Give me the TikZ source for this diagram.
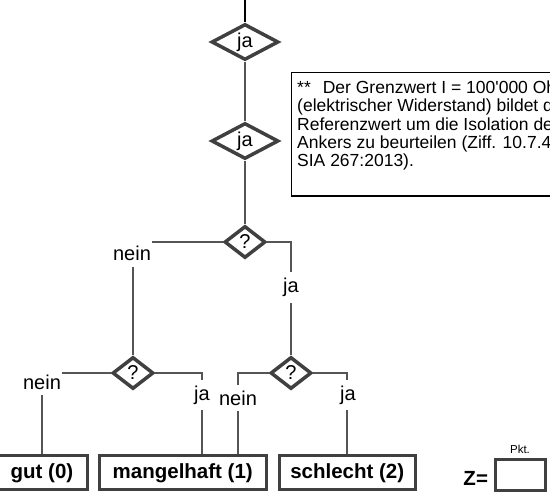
\documentclass[tikz,border=0pt]{standalone}
\usepackage{fontspec}
\setmainfont{Liberation Sans}
\usepackage{tikz}
\usetikzlibrary{shapes.geometric}
\usetikzlibrary{positioning}
\usetikzlibrary{backgrounds}
\definecolor{liniengrau}{HTML}{555555}
\definecolor{rahmengrau}{HTML}{404040}
\tikzset{frage/.style = {diamond, draw=rahmengrau, line width=3.5pt, fill=white,
                         inner sep=0pt, minimum width=67pt, minimum height=36pt,
                         font=\fontsize{20}{20}\selectfont},
         fragezeichen/.style = {frage, minimum width=41pt, minimum height=32pt},
         ergebnis/.style = {rectangle, draw=rahmengrau, line width=3pt, fill=white,
                            inner sep=0pt, minimum height=34pt,
                            font=\fontsize{20.5}{20.5}\selectfont\bfseries},
         pfad/.style = {draw=liniengrau, line width=2pt},
         antwort/.style = {fill=white, inner xsep=1pt, inner ysep=6pt,
                           font=\fontsize{20}{20}\selectfont},
         notiz/.style = {rectangle, draw=black, line width=1.5pt, fill=white,
                         inner sep=0pt, outer sep=0pt},
         notiztext/.style = {inner sep=0pt, align=left,
                             font=\fontsize{17.5}{18.2}\selectfont}}

\begin{document}
\begin{tikzpicture}[x=1pt, y=1pt]
    \useasboundingbox (0,0) rectangle (550,493);
    \clip (0,0) rectangle (550,493);

    \coordinate (start) at (245,493);
    \node[frage] (ja1) at (245,451) {ja};
    \node[frage] (ja2) at (245,352) {ja};
    \node[fragezeichen] (f1) at (245,251) {?};
    \node[fragezeichen] (f2) at (133,120) {?};
    \node[fragezeichen] (f3) at (291,120) {?};

    \node[notiz, minimum width=340pt, minimum height=123.5pt, anchor=north west] (notiz) at (291.5,420.5) {};
    \node[notiztext, anchor=north west] (notiztext) at (297,412.2)
        {**\hspace{12pt}Der Grenzwert I = 100\textquotesingle000 Ohm\\
         (elektrischer Widerstand) bildet den\\
         Referenzwert um die Isolation des\\
         Ankers zu beurteilen (Ziff. 10.7.4\\
         SIA 267:2013).};

    \node[ergebnis, minimum width=91pt] (gut) at (42,20) {gut (0)};
    \node[ergebnis, minimum width=166.5pt] (mangel) at (182.75,20) {mangelhaft (1)};
    \node[ergebnis, minimum width=135.5pt] (schlecht) at (347.25,20) {schlecht (2)};

    \node[ergebnis, minimum width=50pt, minimum height=31pt] (punkte) at (520,17.5) {};
    \node[font=\fontsize{11.5}{11.5}\selectfont, above=1pt of punkte] (pkt) {Pkt.};
    \node[font=\fontsize{20.5}{20.5}\selectfont\bfseries, left=2pt of punkte, yshift=-2.5pt] (zet) {Z=};

    % Verbindungen hinter den Knoten
    \coordinate (e1) at (202,0);
    \coordinate (e2) at (238,0);
    \begin{scope}[on background layer]
        \draw[pfad, draw=black] (start) -- (ja1);
        \draw[pfad] (ja1) -- (ja2);
        \draw[pfad] (ja2) -- (f1);
        \draw[pfad] (f1.west) -| (f2.north);
        \draw[pfad] (f1.east) -| (f3.north);
        \draw[pfad] (f2.west) -| (gut.north);
        \draw[pfad] (f2.east) -| (e1 |- mangel.north);
        \draw[pfad] (f3.west) -| (e2 |- mangel.north);
        \draw[pfad] (f3.east) -| (schlecht.north);
    \end{scope}

    \node[antwort] (n1) at (132,239.5) {nein};
    \node[antwort] (j1) at (291,205.5) {ja};
    \node[antwort] (n2) at (42,111) {nein};
    \node[antwort] (j2) at (202,98) {ja};
    \node[antwort] (n3) at (238,95) {nein};
    \node[antwort] (j3) at (348,98) {ja};
\end{tikzpicture}
\end{document}
